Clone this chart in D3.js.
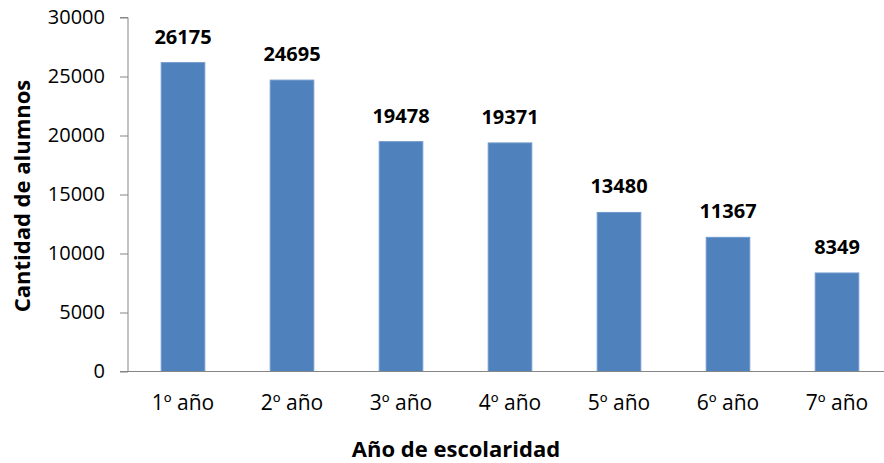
<!DOCTYPE html>
<html><head><meta charset="utf-8">
<script src="https://cdn.jsdelivr.net/npm/d3@7"></script>
<style>
body{margin:0;background:#fff;}
text{font-family:"Open Sans",Lato,sans-serif;fill:#000;}
</style></head>
<body>
<svg id="c" width="884" height="463"></svg>
<script>
const categories = ["1º año","2º año","3º año","4º año","5º año","6º año","7º año"];
const values = [26175,24695,19478,19371,13480,11367,8349];
const yTicks = [0,5000,10000,15000,20000,25000,30000];
const xTitle = "Año de escolaridad";
const yTitle = "Cantidad de alumnos";

const svg = d3.select("#c");
const x = d3.scaleBand().domain(categories).range([128.5,891.5]).paddingInner(0.6).paddingOuter(0.3);
const y = d3.scaleLinear().domain([0,30000]).range([371.5,17.5]);
const axisColor = "#868686";

// y axis
const ya = svg.append("g").attr("transform","translate(128,0)")
  .call(d3.axisLeft(y).tickValues(yTicks).tickSize(8).tickPadding(15).tickFormat(d3.format("d")));
ya.select(".domain").attr("stroke",axisColor).attr("d","M0,"+y(30000)+"H-8H0V"+y(0));
ya.selectAll(".tick line").attr("stroke",axisColor);
ya.selectAll(".tick text").attr("font-size",20).attr("font-family","'Open Sans',sans-serif").attr("fill","#000");

// bars
svg.append("g").selectAll("rect").data(values).join("rect")
  .attr("x",(d,i)=>x(categories[i]))
  .attr("width",x.bandwidth())
  .attr("y",d=>y(d))
  .attr("height",d=>y(0)-y(d))
  .attr("fill","#4F81BD")
  .attr("stroke","#6F98CC").attr("stroke-width",1);

// x axis
const xa = svg.append("g").attr("transform","translate(0,"+y(0)+")")
  .call(d3.axisBottom(x).tickSize(0).tickPadding(24));
xa.select(".domain").attr("stroke",axisColor).attr("d","M120,0H891");
xa.selectAll(".tick text").attr("font-size",21).attr("font-family","'Open Sans',sans-serif").attr("fill","#000");

// value labels
svg.append("g").selectAll("text").data(values).join("text")
  .attr("x",(d,i)=>x(categories[i])+x.bandwidth()/2)
  .attr("y",d=>y(d)-19)
  .attr("text-anchor","middle")
  .attr("font-size",20).attr("font-weight","bold")
  .text(d=>d);

// titles
svg.append("text").attr("x",456).attr("y",457).attr("text-anchor","middle")
  .attr("font-size",22).attr("font-weight","bold").text(xTitle);
svg.append("text").attr("transform","translate(30,196) rotate(-90)").attr("text-anchor","middle")
  .attr("font-size",22).attr("font-weight","bold").text(yTitle);
</script>
</body></html>
